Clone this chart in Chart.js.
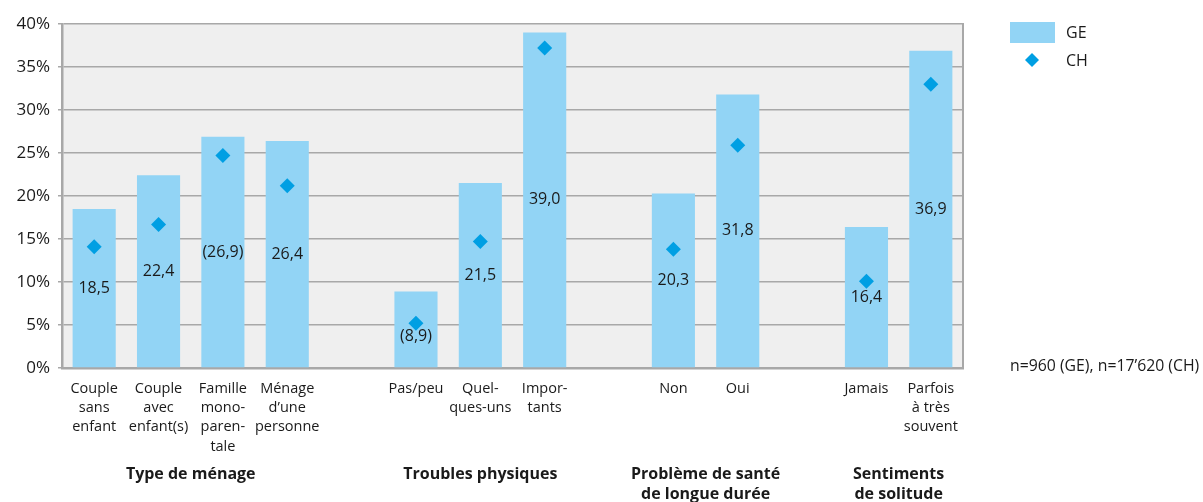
<!DOCTYPE html>
<html><head><meta charset="utf-8">
<script src="https://cdn.jsdelivr.net/npm/chart.js@4"></script>
<style>html,body{margin:0;padding:0;background:#fff}canvas{display:block}</style>
</head><body>
<canvas id="c" width="1203" height="502"></canvas>
<script>
const categories = [["Couple","sans","enfant"],["Couple","avec","enfant(s)"],["Famille","mono-","paren-","tale"],["Ménage","d’une","personne"],"",["Pas/peu"],["Quel-","ques-uns"],["Impor-","tants"],"",["Non"],["Oui"],"",["Jamais"],["Parfois","à très","souvent"]];
const geValues = [18.5,22.4,26.9,26.4,null,8.9,21.5,39.0,null,20.3,31.8,null,16.4,36.9];
const chValues = [14.1,16.7,24.7,21.2,null,5.2,14.7,37.2,null,13.8,25.9,null,10.1,33.0];
const geSmallSample = [false,false,true,false,false,true,false,false,false,false,false,false,false,false];
const groupLabels = [["Type de ménage"],["Troubles physiques"],["Problème de santé","de longue durée"],["Sentiments","de solitude"]];
const groupSpans = [[0,3],[5,7],[9,10],[12,13]];
const yTicks = [0,5,10,15,20,25,30,35,40];
const seriesNames = ["GE","CH"];
const noteText = "n=960 (GE), n=17’620 (CH)";

const FONT = "'Open Sans', sans-serif";
const GE_COLOR = "#92d4f5";
const CH_COLOR = "#009fe3";
const GRID = "#a8a8a8";

const fmt = v => v.toFixed(1).replace('.', ',');

const plugin = {
  id: 'extras',
  beforeDraw(chart) {
    const {ctx, chartArea: a} = chart;
    ctx.save();
    ctx.fillStyle = '#efefef';
    ctx.fillRect(a.left, a.top, a.right - a.left, a.bottom - a.top);
    ctx.restore();
  },
  afterDatasetsDraw(chart) {
    const {ctx, chartArea: a} = chart;
    ctx.save();
    ctx.strokeStyle = GRID; ctx.lineWidth = 2;
    ctx.beginPath(); ctx.moveTo(a.right, a.top - 1); ctx.lineTo(a.right, a.bottom + 1); ctx.stroke();
    ctx.restore();
  },
  afterDraw(chart) {
    const {ctx} = chart;
    const xs = chart.scales.x;
    ctx.save();
    const meta = chart.getDatasetMeta(0);
    const pts = chart.getDatasetMeta(1).data;
    ctx.font = "16px " + FONT;
    ctx.fillStyle = '#1a1a1a';
    ctx.textAlign = 'center'; ctx.textBaseline = 'middle';
    meta.data.forEach((bar, i) => {
      const v = geValues[i];
      if (v == null) return;
      const t = geSmallSample[i] ? '(' + fmt(v) + ')' : fmt(v);
      let y = (bar.y + bar.base) / 2;
      const p = pts[i];
      if (p && chValues[i] != null && Math.abs(y - p.y) < 12) y = p.y + 13;
      ctx.fillText(t, bar.x, y);
    });
    ctx.font = "bold 16px " + FONT;
    groupSpans.forEach((s, gi) => {
      const cx = (xs.getPixelForValue(s[0]) + xs.getPixelForValue(s[1])) / 2;
      groupLabels[gi].forEach((line, li) => ctx.fillText(line, cx, 474 + li * 20));
    });
    ctx.fillStyle = GE_COLOR;
    ctx.fillRect(1010, 22, 45, 21);
    ctx.fillStyle = CH_COLOR;
    ctx.beginPath();
    ctx.moveTo(1032, 53); ctx.lineTo(1039, 60); ctx.lineTo(1032, 67); ctx.lineTo(1025, 60); ctx.closePath(); ctx.fill();
    ctx.fillStyle = '#1a1a1a';
    ctx.font = "16px " + FONT;
    ctx.textAlign = 'left';
    ctx.fillText(seriesNames[0], 1066, 33);
    ctx.fillText(seriesNames[1], 1066, 61);
    ctx.font = "15.8px " + FONT;
    ctx.fillText(noteText, 1010, 366);
    ctx.restore();
  }
};

new Chart(document.getElementById('c'), {
  data: {
    labels: categories,
    datasets: [
      { type: 'bar', label: seriesNames[0], data: geValues, backgroundColor: GE_COLOR,
        categoryPercentage: 1, barPercentage: 0.67, order: 2 },
      { type: 'line', label: seriesNames[1], data: chValues, showLine: false,
        pointStyle: 'rectRot', pointRadius: 7.5, pointHoverRadius: 7.5,
        pointBackgroundColor: CH_COLOR, pointBorderColor: CH_COLOR, pointBorderWidth: 0, order: 1 }
    ]
  },
  options: {
    responsive: false, animation: false,
    layout: { padding: { left: 0, right: 240, top: 24, bottom: 0 } },
    plugins: { legend: { display: false }, tooltip: { enabled: false } },
    scales: {
      x: {
        grid: { display: false, drawTicks: false },
        border: { color: GRID, width: 2.5 },
        ticks: { autoSkip: false, maxRotation: 0, minRotation: 0, padding: 11,
          color: '#1a1a1a', font: { family: FONT, size: 14.5, lineHeight: 1.33 } },
        afterFit(s) { s.height = 134; }
      },
      y: {
        min: 0, max: 40,
        afterBuildTicks(s) { s.ticks = yTicks.map(v => ({ value: v })); },
        grid: { color: GRID, lineWidth: 1.5, tickLength: 4, tickColor: GRID },
        border: { color: GRID, width: 2.5 },
        ticks: { padding: 8, color: '#1a1a1a', font: { family: FONT, size: 17 },
          callback: v => v + '%' },
        afterFit(s) { s.width = 62; }
      }
    }
  },
  plugins: [plugin]
});
</script>
</body></html>
